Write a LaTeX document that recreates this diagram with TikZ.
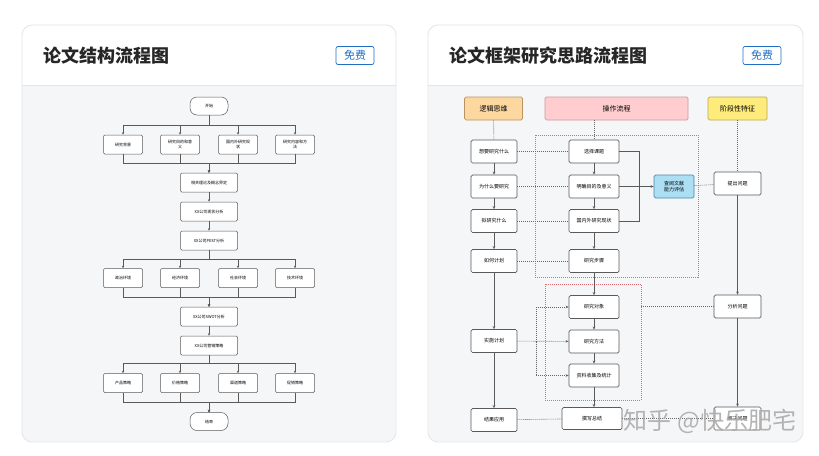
\documentclass[tikz,border=0pt]{standalone}
\usepackage{fontspec}
\newfontfamily\cjk{Noto Sans CJK SC}
\usetikzlibrary{arrows.meta,calc}
\definecolor{cardline}{HTML}{E3E5E8}
\definecolor{bodygray}{HTML}{F5F6F8}
\definecolor{badgeblue}{HTML}{1F6FC5}
\definecolor{boxline}{HTML}{5A5A5A}
\definecolor{dotgray}{HTML}{666666}
\definecolor{framered}{HTML}{E26A72}
\definecolor{orangefill}{HTML}{FDD7A0}
\definecolor{orangeline}{HTML}{B89460}
\definecolor{pinkfill}{HTML}{FFCDD0}
\definecolor{pinkline}{HTML}{C79A9C}
\definecolor{yellowfill}{HTML}{FDEB7C}
\definecolor{yellowline}{HTML}{BCA94E}
\definecolor{bluefill}{HTML}{ADDFF4}
\definecolor{blueline}{HTML}{4F87A8}
\begin{document}
\begin{tikzpicture}[x=1pt,y=-1pt,font=\cjk,
  card/.style={draw=cardline,line width=0.8pt,rounded corners=10pt},
  badge/.style={draw=badgeblue,rounded corners=2pt,text=badgeblue,line width=0.7pt,
    minimum width=38pt,minimum height=18pt,inner sep=0pt,font=\cjk\fontsize{11}{12}\selectfont},
  title/.style={anchor=west,inner sep=0pt,font=\cjk\bfseries\fontsize{18}{20}\selectfont,text=black!85},
  lbox/.style={draw=boxline,fill=white,line width=0.5pt,rounded corners=1.2pt,
    minimum width=39pt,minimum height=19pt,inner sep=1pt,align=center,
    font=\cjk\fontsize{4}{4.8}\selectfont},
  wbox/.style={lbox,minimum width=57pt},
  term/.style={lbox,rounded corners=7pt,minimum width=38pt,minimum height=18pt},
  larr/.style={draw=boxline,line width=0.5pt,-{Stealth[length=2.5pt,width=2.2pt]}},
  lline/.style={draw=boxline,line width=0.5pt},
  rbox/.style={draw=boxline,fill=white,line width=0.7pt,rounded corners=1.5pt,
    minimum width=46pt,minimum height=23pt,inner sep=1pt,align=center,
    font=\cjk\fontsize{5}{6}\selectfont},
  hbox/.style={rbox,minimum height=23pt,font=\cjk\fontsize{7}{8}\selectfont},
  rarr/.style={draw=boxline,line width=0.7pt,-{Stealth[length=3pt,width=2.6pt]}},
  rline/.style={draw=boxline,line width=0.7pt},
  dotline/.style={draw=dotgray,line width=0.6pt,dash pattern=on 1pt off 1pt},
  dotarr/.style={dotline,-{Stealth[length=3pt,width=2.6pt]}},
  frame/.style={draw=framered,line width=0.7pt,dash pattern=on 1pt off 1pt}
]
\useasboundingbox (0,0) rectangle (819,455);
\fill[white] (0,0) rectangle (819,455);

% ---------- cards ----------
\begin{scope}
  \clip[rounded corners=10pt] (22,25) rectangle (396,442);
  \fill[white] (22,25) rectangle (396,85);
  \fill[bodygray] (22,85) rectangle (396,442);
  \draw[cardline,line width=0.8pt] (22,85) -- (396,85);
\end{scope}
\draw[card] (22,25) rectangle (396,442);
\begin{scope}
  \clip[rounded corners=10pt] (428,25) rectangle (803,442);
  \fill[white] (428,25) rectangle (803,85);
  \fill[bodygray] (428,85) rectangle (803,442);
  \draw[cardline,line width=0.8pt] (428,85) -- (803,85);
\end{scope}
\draw[card] (428,25) rectangle (803,442);

\node[title] (t1) at (43,56) {论文结构流程图};
\node[badge] (bg1) at (355,55.5) {免费};
\node[title] (t2) at (449,56) {论文框架研究思路流程图};
\node[badge] (bg2) at (762,55.5) {免费};

% ---------- left diagram ----------
\node[term] (start) at (209,106) {开始};
\node[lbox] (a1) at (123,144.5) {研究背景};
\node[lbox] (a2) at (180,144.5) {研究目的和意\\义};
\node[lbox] (a3) at (238,144.5) {国内外研究现\\状};
\node[lbox] (a4) at (295,144.5) {研究内容和方\\法};
\node[wbox] (rel) at (209,182.5) {相关理论及概念界定};
\node[wbox] (cur) at (209,211.5) {XX公司现状分析};
\node[wbox] (pest) at (209,240.5) {XX公司PEST分析};
\node[lbox] (b1) at (123,278) {政治环境};
\node[lbox] (b2) at (180,278) {经济环境};
\node[lbox] (b3) at (238,278) {社会环境};
\node[lbox] (b4) at (295,278) {技术环境};
\node[wbox] (swot) at (209,316.5) {XX公司SWOT分析};
\node[wbox] (mkt) at (209,345.5) {XX公司营销策略};
\node[lbox] (c1) at (123,383) {产品策略};
\node[lbox] (c2) at (180,383) {价格策略};
\node[lbox] (c3) at (238,383) {渠道策略};
\node[lbox] (c4) at (295,383) {促销策略};
\node[term] (end) at (209,421.5) {结束};

\foreach \n in {a1,a2,a3,a4}{
  \draw[larr] (start.south) -- ++(0,10) -| (\n.north);
  \draw[larr] (\n.south) -- ++(0,8.5) -| (rel.north);
}
\draw[larr] (rel) -- (cur);
\draw[larr] (cur) -- (pest);
\foreach \n in {b1,b2,b3,b4}{
  \draw[larr] (pest.south) -- ++(0,9) -| (\n.north);
  \draw[larr] (\n.south) -- ++(0,9.5) -| (swot.north);
}
\draw[larr] (swot) -- (mkt);
\foreach \n in {c1,c2,c3,c4}{
  \draw[larr] (mkt.south) -- ++(0,8) -| (\n.north);
  \draw[larr] (\n.south) -- ++(0,9.5) -| (end.north);
}

% ---------- right diagram ----------
\node[hbox,fill=orangefill,draw=orangeline,minimum width=58pt] (h1) at (493.5,108.5) {逻辑思维};
\node[hbox,fill=pinkfill,draw=pinkline,minimum width=143pt] (h2) at (616.5,108.5) {操作流程};
\node[hbox,fill=yellowfill,draw=yellowline,minimum width=59pt] (h3) at (737.5,108.5) {阶段性特征};

\draw[frame] (535,135) rectangle (698,277);
\draw[frame] (545,284) rectangle (641,400);

\node[rbox] (l1) at (494,151.5) {想要研究什么};
\node[rbox] (l2) at (494,186.5) {为什么要研究};
\node[rbox] (l3) at (494,221) {拟研究什么};
\node[rbox] (l4) at (494,261) {如何计划};
\node[rbox] (l5) at (494,341) {实施计划};
\node[rbox] (l6) at (494,420) {结果应用};

\node[rbox,minimum width=50pt] (m1) at (594,151.5) {选择课题};
\node[rbox,minimum width=50pt] (m2) at (594,186.5) {明确目的及意义};
\node[rbox,minimum width=50pt] (m3) at (594,221) {国内外研究现状};
\node[rbox,minimum width=50pt] (m4) at (594,261) {研究步骤};
\node[rbox,minimum width=50pt] (m5) at (594,307) {研究对象};
\node[rbox,minimum width=50pt] (m6) at (594,341.5) {研究方法};
\node[rbox,minimum width=50pt] (m7) at (594,375.5) {资料收集及统计};
\node[rbox,minimum width=60pt,minimum height=22pt] (m8) at (592,418.5) {撰写总结};

\node[rbox,fill=bluefill,draw=blueline,minimum width=40pt] (bl) at (674,186.5) {查阅文献\\能力评估};

\node[rbox,minimum width=47pt] (q1) at (737.5,183.5) {提出问题};
\node[rbox,minimum width=47pt] (q2) at (737.5,306.5) {分析问题};
\node[rbox,minimum width=47pt] (q3) at (737.5,418.5) {解决问题};

% header dotted drops
\draw[dotline] (h1) -- (l1);
\draw[dotline] (h2.south -| m1.north) -- (m1.north);
\draw[dotline] (h3) -- (q1);

% left column arrows
\draw[rarr] (l1) -- (l2);
\draw[rarr] (l2) -- (l3);
\draw[rarr] (l3) -- (l4);
\draw[rarr] (l4) -- (l5);
\draw[rarr] (l5) -- (l6);

% middle column arrows
\draw[rarr] (m1) -- (m2);
\draw[rarr] (m2) -- (m3);
\draw[rarr] (m3) -- (m4);
\draw[rarr] (m4) -- (m5);
\draw[rarr] (m5) -- (m6);
\draw[rarr] (m6) -- (m7);
\draw[rarr] (m7.south) -- (m7.south |- m8.north);

% horizontal dotted links
\draw[dotline] (l1) -- (m1);
\draw[dotline] (l2) -- (m2);
\draw[dotline] (l3) -- (m3);
\draw[dotline] (l4) -- (m4);
\draw[dotline] (l6) -- (m8);
\draw[dotarr] (l5) -- (m6);
\coordinate (split) at (536,341.5);
\draw[dotarr] (split) |- (m5.west);
\draw[dotarr] (split) |- (m7.west);

% bracket to blue box
\draw[rline] (m1.east) -- ++(20,0) |- (m3.east);
\draw[rarr] (m2) -- (bl);
\draw[dotline] (bl) -- (q1);

% right column
\draw[rarr] (q1) -- (q2);
\draw[rarr] (q2) -- (q3);
\coordinate (f2e) at (641,306.5);
\draw[dotline] (f2e) -- (q2.west);
\draw[dotline] (m8) -- (q3);

% watermark
\node[text=gray!65,opacity=0.9,inner sep=0pt,font=\cjk\fontsize{24}{26}\selectfont] (wm) at (710,421) {知乎 @快乐肥宅};
\end{tikzpicture}
\end{document}
